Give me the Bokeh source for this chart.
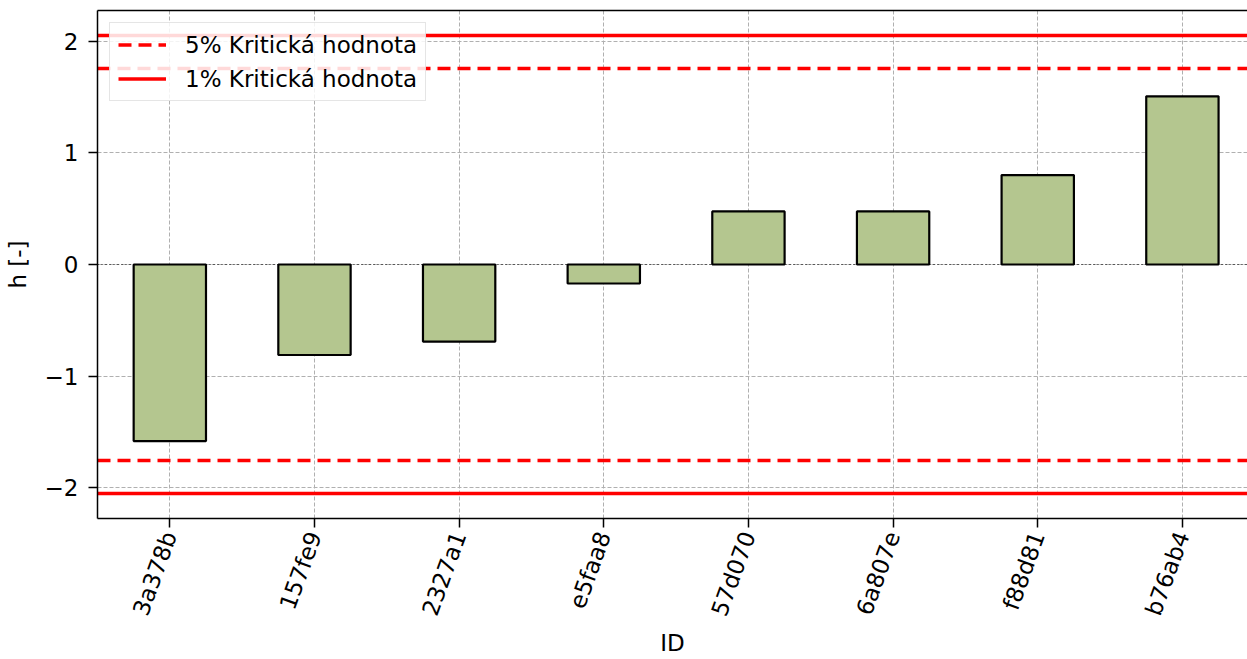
from bokeh.plotting import figure
from bokeh.models import (Range1d, FixedTicker, CustomJSTickFormatter, LinearAxis,
                          ColumnDataSource, Span)
from bokeh.embed import file_html
from bokeh.resources import INLINE
import math

ids = ["3a378b", "157fe9", "2327a1", "e5faa8", "57d070", "6a807e", "f88d81", "b76ab4"]
h_values = [-1.58, -0.81, -0.69, -0.17, 0.475, 0.475, 0.80, 1.505]
crit_5 = 1.753
crit_1 = 2.05
y_ticks = [-2, -1, 0, 1, 2]

FONT = "DejaVu Sans"
FS = "23px"
positions = list(range(len(ids)))
src = ColumnDataSource(dict(x=positions, top=h_values))

p = figure(width=1247, height=659, output_backend="svg", toolbar_location=None,
           x_range=Range1d(-0.5, 7.45), y_range=Range1d(-2.273, 2.273),
           min_border_left=97, min_border_right=0, min_border_top=10, min_border_bottom=141)
p.outline_line_color = None
p.background_fill_color = "white"
p.border_fill_color = "white"

# grid
for g in (p.xgrid, p.ygrid):
    g.grid_line_color = "#b0b0b0"
    g.grid_line_dash = "4 2"
    g.grid_line_width = 1

# bars
p.vbar(x="x", top="top", bottom=0, width=0.5, source=src,
       fill_color="#b4c68f", line_color="black", line_width=2.2)

# zero line
p.add_layout(Span(location=0, dimension="width", line_color="black",
                  line_dash="1 3", line_width=1))

# critical lines
p.hspan(y=[crit_5, -crit_5], line_color="red", line_dash="13 7", line_width=3.5,
        legend_label="5% Kritická hodnota")
p.hspan(y=[crit_1, -crit_1], line_color="red", line_width=3.5,
        legend_label="1% Kritická hodnota")

# axes
xa = p.xaxis[0]
xa.ticker = FixedTicker(ticks=positions)
xa.major_label_overrides = {i: s for i, s in enumerate(ids)}
xa.major_label_orientation = math.radians(70)
xa.axis_label = "ID"

ya = p.yaxis[0]
ya.ticker = FixedTicker(ticks=y_ticks)
ya.formatter = CustomJSTickFormatter(code="return tick < 0 ? '\u2212' + Math.abs(tick) : String(tick);")
ya.axis_label = "h [-]"

for ax in (xa, ya):
    ax.minor_tick_line_color = None
    ax.major_tick_out = 9
    ax.major_tick_in = 0
    ax.major_tick_line_width = 1.5
    ax.axis_line_width = 1.5
    ax.major_label_text_font = FONT
    ax.major_label_text_font_size = FS
    ax.major_label_text_color = "black"
    ax.axis_label_text_font = FONT
    ax.axis_label_text_font_size = FS
    ax.axis_label_text_font_style = "normal"
    ax.axis_label_text_color = "black"

ya.major_label_standoff = 10
xa.major_label_standoff = 5
ya.axis_label_standoff = 11
xa.axis_label_standoff = 3

top_axis = LinearAxis(ticker=FixedTicker(ticks=[]), major_tick_out=0, major_tick_in=0,
                      minor_tick_line_color=None, major_label_text_font_size="0px",
                      axis_line_width=1.5, major_label_standoff=0)
p.add_layout(top_axis, "above")

# legend
lg = p.legend[0]
lg.location = "top_left"
lg.margin = 12
lg.label_text_font = FONT
lg.label_text_font_size = FS
lg.label_text_color = "black"
lg.glyph_width = 48
lg.glyph_height = 27
lg.label_height = 27
lg.label_standoff = 19
lg.spacing = 7
lg.padding = 8
lg.border_line_color = "#cccccc"
lg.border_line_width = 1.5
lg.background_fill_alpha = 0.85

open("out.html", "w").write(file_html(p, INLINE))
